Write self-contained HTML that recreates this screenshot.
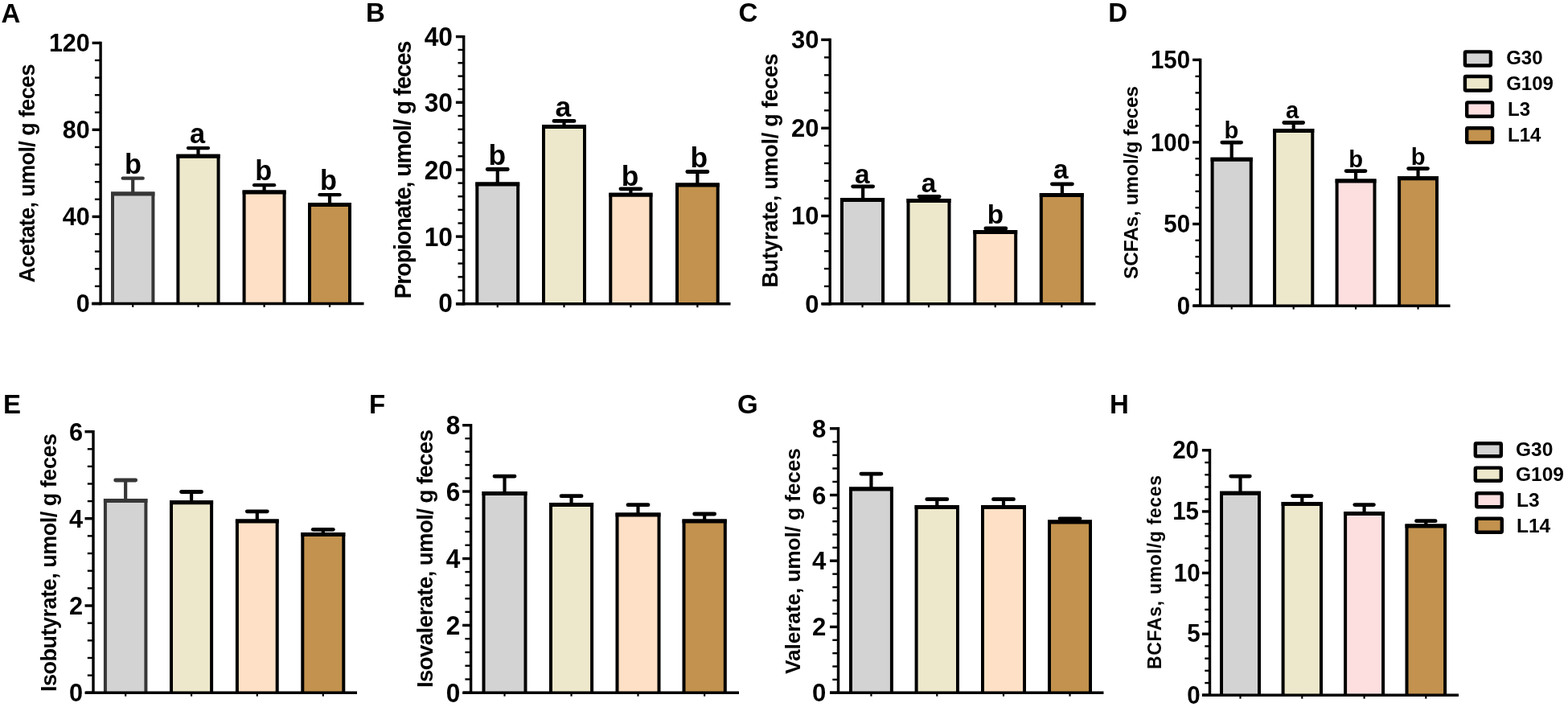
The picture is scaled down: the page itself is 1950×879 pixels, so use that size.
<!DOCTYPE html>
<html lang="en">
<head>
<meta charset="utf-8">
<title>Short-chain fatty acids</title>
<style>
html,body{margin:0;padding:0;background:#fff;}
body{width:1950px;height:879px;overflow:hidden;}
svg{display:block;}
text{fill:#000;}
</style>
</head>
<body>
<svg width="1950" height="879" viewBox="0 0 1950 879">
<rect width="1950" height="879" fill="#ffffff"/>
<g id="panel-A">
<text x="1.5" y="27.6" font-size="33" font-family="'Liberation Sans', Arial, sans-serif" font-weight="bold">A</text>
<text transform="translate(43,351.6) rotate(-90)" font-size="27" textLength="272.1" lengthAdjust="spacing" font-family="'Liberation Sans', Arial, sans-serif" font-weight="bold">Acetate, umol/ g feces</text>
<path d="M165.2,240.6 V221.7" stroke="#363636" stroke-width="4.2" fill="none"/>
<path d="M152.7,221.7 H177.7" stroke="#363636" stroke-width="4.3" fill="none" stroke-linecap="round"/>
<path d="M140,377.5 V240.6 H190.4 V377.5" fill="#d3d3d3" stroke="#363636" stroke-width="4.0" stroke-linejoin="miter"/>
<line x1="138" y1="241.1" x2="192.4" y2="241.1" stroke="#363636" stroke-width="5.0"/>
<line x1="165.2" y1="377.5" x2="165.2" y2="381.9" stroke="#000" stroke-width="2.2"/>
<text x="165.6" y="215.7" text-anchor="middle" font-size="34.3" font-family="'Liberation Sans', Arial, sans-serif" font-weight="bold">b</text>
<path d="M246.5,193.7 V184.1" stroke="#000" stroke-width="4.2" fill="none"/>
<path d="M234,184.1 H259" stroke="#000" stroke-width="4.3" fill="none" stroke-linecap="round"/>
<path d="M221.4,377.5 V193.7 H271.6 V377.5" fill="#ede8cb" stroke="#000" stroke-width="4.0" stroke-linejoin="miter"/>
<line x1="219.4" y1="194.2" x2="273.6" y2="194.2" stroke="#000" stroke-width="5.0"/>
<line x1="246.5" y1="377.5" x2="246.5" y2="381.9" stroke="#000" stroke-width="2.2"/>
<text x="245.5" y="177.7" text-anchor="middle" font-size="34.3" font-family="'Liberation Sans', Arial, sans-serif" font-weight="bold">a</text>
<path d="M328.6,238.4 V230.2" stroke="#000" stroke-width="4.2" fill="none"/>
<path d="M316.1,230.2 H341.1" stroke="#000" stroke-width="4.3" fill="none" stroke-linecap="round"/>
<path d="M303.6,377.5 V238.4 H353.6 V377.5" fill="#fde0c5" stroke="#000" stroke-width="4.0" stroke-linejoin="miter"/>
<line x1="301.6" y1="238.9" x2="355.6" y2="238.9" stroke="#000" stroke-width="5.0"/>
<line x1="328.6" y1="377.5" x2="328.6" y2="381.9" stroke="#000" stroke-width="2.2"/>
<text x="327.8" y="224" text-anchor="middle" font-size="34.3" font-family="'Liberation Sans', Arial, sans-serif" font-weight="bold">b</text>
<path d="M410,254 V242.2" stroke="#000" stroke-width="4.2" fill="none"/>
<path d="M397.5,242.2 H422.5" stroke="#000" stroke-width="4.3" fill="none" stroke-linecap="round"/>
<path d="M385,377.5 V254 H435 V377.5" fill="#c2924e" stroke="#000" stroke-width="4.0" stroke-linejoin="miter"/>
<line x1="383" y1="254.5" x2="437" y2="254.5" stroke="#000" stroke-width="5.0"/>
<line x1="410" y1="377.5" x2="410" y2="381.9" stroke="#000" stroke-width="2.2"/>
<text x="408.6" y="236" text-anchor="middle" font-size="34.3" font-family="'Liberation Sans', Arial, sans-serif" font-weight="bold">b</text>
<line x1="125.1" y1="51.7" x2="125.1" y2="379.2" stroke="#000" stroke-width="3.4"/>
<line x1="114" y1="377.5" x2="452.5" y2="377.5" stroke="#000" stroke-width="3.4"/>
<line x1="114.6" y1="377.5" x2="125.1" y2="377.5" stroke="#000" stroke-width="3.4"/>
<text transform="translate(111.8,388.22) scale(1.0,1)" text-anchor="end" font-size="30.5" font-family="'Liberation Sans', Arial, sans-serif" font-weight="bold">0</text>
<line x1="117.9" y1="355.88" x2="125.1" y2="355.88" stroke="#000" stroke-width="2.4"/>
<line x1="117.9" y1="334.26" x2="125.1" y2="334.26" stroke="#000" stroke-width="2.4"/>
<line x1="117.9" y1="312.64" x2="125.1" y2="312.64" stroke="#000" stroke-width="2.4"/>
<line x1="117.9" y1="291.02" x2="125.1" y2="291.02" stroke="#000" stroke-width="2.4"/>
<line x1="114.6" y1="269.4" x2="125.1" y2="269.4" stroke="#000" stroke-width="3.4"/>
<text transform="translate(111.8,280.12) scale(1.0,1)" text-anchor="end" font-size="30.5" font-family="'Liberation Sans', Arial, sans-serif" font-weight="bold">40</text>
<line x1="117.9" y1="247.78" x2="125.1" y2="247.78" stroke="#000" stroke-width="2.4"/>
<line x1="117.9" y1="226.16" x2="125.1" y2="226.16" stroke="#000" stroke-width="2.4"/>
<line x1="117.9" y1="204.54" x2="125.1" y2="204.54" stroke="#000" stroke-width="2.4"/>
<line x1="117.9" y1="182.92" x2="125.1" y2="182.92" stroke="#000" stroke-width="2.4"/>
<line x1="114.6" y1="161.3" x2="125.1" y2="161.3" stroke="#000" stroke-width="3.4"/>
<text transform="translate(111.8,172.02) scale(1.0,1)" text-anchor="end" font-size="30.5" font-family="'Liberation Sans', Arial, sans-serif" font-weight="bold">80</text>
<line x1="117.9" y1="139.72" x2="125.1" y2="139.72" stroke="#000" stroke-width="2.4"/>
<line x1="117.9" y1="118.14" x2="125.1" y2="118.14" stroke="#000" stroke-width="2.4"/>
<line x1="117.9" y1="96.56" x2="125.1" y2="96.56" stroke="#000" stroke-width="2.4"/>
<line x1="117.9" y1="74.98" x2="125.1" y2="74.98" stroke="#000" stroke-width="2.4"/>
<line x1="114.6" y1="53.4" x2="125.1" y2="53.4" stroke="#000" stroke-width="3.4"/>
<text transform="translate(111.8,64.12) scale(1.0,1)" text-anchor="end" font-size="30.5" font-family="'Liberation Sans', Arial, sans-serif" font-weight="bold">120</text>
</g>
<g id="panel-B">
<text x="455" y="27" font-size="33" font-family="'Liberation Sans', Arial, sans-serif" font-weight="bold">B</text>
<text transform="translate(511.2,371.6) rotate(-90)" font-size="28.6" textLength="321" lengthAdjust="spacing" font-family="'Liberation Sans', Arial, sans-serif" font-weight="bold">Propionate, umol/ g feces</text>
<path d="M618.75,228.6 V210.5" stroke="#000" stroke-width="4.2" fill="none"/>
<path d="M606.25,210.5 H631.25" stroke="#000" stroke-width="4.8" fill="none" stroke-linecap="round"/>
<path d="M593.3,377.8 V228.6 H644.2 V377.8" fill="#d3d3d3" stroke="#000" stroke-width="4.0" stroke-linejoin="miter"/>
<line x1="591.3" y1="229.1" x2="646.2" y2="229.1" stroke="#000" stroke-width="5.0"/>
<line x1="618.75" y1="377.8" x2="618.75" y2="382.2" stroke="#000" stroke-width="2.2"/>
<text x="618.4" y="204.6" text-anchor="middle" font-size="35.4" font-family="'Liberation Sans', Arial, sans-serif" font-weight="bold">b</text>
<path d="M701.5,157.1 V150.4" stroke="#000" stroke-width="4.2" fill="none"/>
<path d="M689,150.4 H714" stroke="#000" stroke-width="4.8" fill="none" stroke-linecap="round"/>
<path d="M676,377.8 V157.1 H727 V377.8" fill="#ede8cb" stroke="#000" stroke-width="4.0" stroke-linejoin="miter"/>
<line x1="674" y1="157.6" x2="729" y2="157.6" stroke="#000" stroke-width="5.0"/>
<line x1="701.5" y1="377.8" x2="701.5" y2="382.2" stroke="#000" stroke-width="2.2"/>
<text x="700.3" y="144.9" text-anchor="middle" font-size="35.4" font-family="'Liberation Sans', Arial, sans-serif" font-weight="bold">a</text>
<path d="M784.4,241.7 V234.8" stroke="#000" stroke-width="4.2" fill="none"/>
<path d="M771.9,234.8 H796.9" stroke="#000" stroke-width="4.8" fill="none" stroke-linecap="round"/>
<path d="M759.3,377.8 V241.7 H809.5 V377.8" fill="#fde0c5" stroke="#000" stroke-width="4.0" stroke-linejoin="miter"/>
<line x1="757.3" y1="242.2" x2="811.5" y2="242.2" stroke="#000" stroke-width="5.0"/>
<line x1="784.4" y1="377.8" x2="784.4" y2="382.2" stroke="#000" stroke-width="2.2"/>
<text x="783.6" y="230.7" text-anchor="middle" font-size="35.4" font-family="'Liberation Sans', Arial, sans-serif" font-weight="bold">b</text>
<path d="M867.35,229.4 V213.5" stroke="#000" stroke-width="4.2" fill="none"/>
<path d="M854.85,213.5 H879.85" stroke="#000" stroke-width="4.8" fill="none" stroke-linecap="round"/>
<path d="M842,377.8 V229.4 H892.7 V377.8" fill="#c2924e" stroke="#000" stroke-width="4.0" stroke-linejoin="miter"/>
<line x1="840" y1="229.9" x2="894.7" y2="229.9" stroke="#000" stroke-width="5.0"/>
<line x1="867.35" y1="377.8" x2="867.35" y2="382.2" stroke="#000" stroke-width="2.2"/>
<text x="869.3" y="207.5" text-anchor="middle" font-size="35.4" font-family="'Liberation Sans', Arial, sans-serif" font-weight="bold">b</text>
<line x1="576.7" y1="43.9" x2="576.7" y2="379.5" stroke="#000" stroke-width="3.4"/>
<line x1="567.5" y1="377.8" x2="908.5" y2="377.8" stroke="#000" stroke-width="3.4"/>
<line x1="566.9" y1="377.8" x2="576.7" y2="377.8" stroke="#000" stroke-width="3.4"/>
<text transform="translate(563,388.41) scale(0.97,1)" text-anchor="end" font-size="32.7" font-family="'Liberation Sans', Arial, sans-serif" font-weight="bold">0</text>
<line x1="569.5" y1="361.06" x2="576.7" y2="361.06" stroke="#000" stroke-width="2.4"/>
<line x1="569.5" y1="344.32" x2="576.7" y2="344.32" stroke="#000" stroke-width="2.4"/>
<line x1="569.5" y1="327.58" x2="576.7" y2="327.58" stroke="#000" stroke-width="2.4"/>
<line x1="569.5" y1="310.84" x2="576.7" y2="310.84" stroke="#000" stroke-width="2.4"/>
<line x1="566.9" y1="294.1" x2="576.7" y2="294.1" stroke="#000" stroke-width="3.4"/>
<text transform="translate(563,305.51) scale(0.97,1)" text-anchor="end" font-size="32.7" font-family="'Liberation Sans', Arial, sans-serif" font-weight="bold">10</text>
<line x1="569.5" y1="277.48" x2="576.7" y2="277.48" stroke="#000" stroke-width="2.4"/>
<line x1="569.5" y1="260.86" x2="576.7" y2="260.86" stroke="#000" stroke-width="2.4"/>
<line x1="569.5" y1="244.24" x2="576.7" y2="244.24" stroke="#000" stroke-width="2.4"/>
<line x1="569.5" y1="227.62" x2="576.7" y2="227.62" stroke="#000" stroke-width="2.4"/>
<line x1="566.9" y1="211" x2="576.7" y2="211" stroke="#000" stroke-width="3.4"/>
<text transform="translate(563,222.71) scale(0.97,1)" text-anchor="end" font-size="32.7" font-family="'Liberation Sans', Arial, sans-serif" font-weight="bold">20</text>
<line x1="569.5" y1="194.26" x2="576.7" y2="194.26" stroke="#000" stroke-width="2.4"/>
<line x1="569.5" y1="177.52" x2="576.7" y2="177.52" stroke="#000" stroke-width="2.4"/>
<line x1="569.5" y1="160.78" x2="576.7" y2="160.78" stroke="#000" stroke-width="2.4"/>
<line x1="569.5" y1="144.04" x2="576.7" y2="144.04" stroke="#000" stroke-width="2.4"/>
<line x1="566.9" y1="127.3" x2="576.7" y2="127.3" stroke="#000" stroke-width="3.4"/>
<text transform="translate(563,139.01) scale(0.97,1)" text-anchor="end" font-size="32.7" font-family="'Liberation Sans', Arial, sans-serif" font-weight="bold">30</text>
<line x1="569.5" y1="110.96" x2="576.7" y2="110.96" stroke="#000" stroke-width="2.4"/>
<line x1="569.5" y1="94.62" x2="576.7" y2="94.62" stroke="#000" stroke-width="2.4"/>
<line x1="569.5" y1="78.28" x2="576.7" y2="78.28" stroke="#000" stroke-width="2.4"/>
<line x1="569.5" y1="61.94" x2="576.7" y2="61.94" stroke="#000" stroke-width="2.4"/>
<line x1="566.9" y1="45.6" x2="576.7" y2="45.6" stroke="#000" stroke-width="3.4"/>
<text transform="translate(563,57.31) scale(0.97,1)" text-anchor="end" font-size="32.7" font-family="'Liberation Sans', Arial, sans-serif" font-weight="bold">40</text>
</g>
<g id="panel-C">
<text x="918.6" y="27" font-size="33" font-family="'Liberation Sans', Arial, sans-serif" font-weight="bold">C</text>
<text transform="translate(966.8,357.6) rotate(-90)" font-size="27" textLength="291.2" lengthAdjust="spacing" font-family="'Liberation Sans', Arial, sans-serif" font-weight="bold">Butyrate, umol/ g feces</text>
<path d="M1073.15,248 V231.8" stroke="#000" stroke-width="4.2" fill="none"/>
<path d="M1060.65,231.8 H1085.65" stroke="#000" stroke-width="4.8" fill="none" stroke-linecap="round"/>
<path d="M1047,377.8 V248 H1098.1 V377.8" fill="#d3d3d3" stroke="#000" stroke-width="4.0" stroke-linejoin="miter"/>
<line x1="1045" y1="248.5" x2="1100.1" y2="248.5" stroke="#000" stroke-width="5.0"/>
<line x1="1072.55" y1="377.8" x2="1072.55" y2="382.2" stroke="#000" stroke-width="2.2"/>
<text x="1072.3" y="227.5" text-anchor="middle" font-size="33.3" font-family="'Liberation Sans', Arial, sans-serif" font-weight="bold">a</text>
<path d="M1155.6,249 V244.5" stroke="#000" stroke-width="4.2" fill="none"/>
<path d="M1143.1,244.5 H1168.1" stroke="#000" stroke-width="4.8" fill="none" stroke-linecap="round"/>
<path d="M1129.5,377.8 V249 H1180.5 V377.8" fill="#ede8cb" stroke="#000" stroke-width="4.0" stroke-linejoin="miter"/>
<line x1="1127.5" y1="249.5" x2="1182.5" y2="249.5" stroke="#000" stroke-width="5.0"/>
<line x1="1155" y1="377.8" x2="1155" y2="382.2" stroke="#000" stroke-width="2.2"/>
<text x="1155.1" y="238.6" text-anchor="middle" font-size="33.3" font-family="'Liberation Sans', Arial, sans-serif" font-weight="bold">a</text>
<path d="M1238.35,288 V284" stroke="#000" stroke-width="4.2" fill="none"/>
<path d="M1225.85,284 H1250.85" stroke="#000" stroke-width="4.8" fill="none" stroke-linecap="round"/>
<path d="M1212.3,377.8 V288 H1263.2 V377.8" fill="#fde0c5" stroke="#000" stroke-width="4.0" stroke-linejoin="miter"/>
<line x1="1210.3" y1="288.5" x2="1265.2" y2="288.5" stroke="#000" stroke-width="5.0"/>
<line x1="1237.75" y1="377.8" x2="1237.75" y2="382.2" stroke="#000" stroke-width="2.2"/>
<text x="1237.9" y="277.7" text-anchor="middle" font-size="33.3" font-family="'Liberation Sans', Arial, sans-serif" font-weight="bold">b</text>
<path d="M1320.9,242 V228.8" stroke="#000" stroke-width="4.2" fill="none"/>
<path d="M1308.4,228.8 H1333.4" stroke="#000" stroke-width="4.8" fill="none" stroke-linecap="round"/>
<path d="M1294.8,377.8 V242 H1345.8 V377.8" fill="#c2924e" stroke="#000" stroke-width="4.0" stroke-linejoin="miter"/>
<line x1="1292.8" y1="242.5" x2="1347.8" y2="242.5" stroke="#000" stroke-width="5.0"/>
<line x1="1320.3" y1="377.8" x2="1320.3" y2="382.2" stroke="#000" stroke-width="2.2"/>
<text x="1319.3" y="222.2" text-anchor="middle" font-size="33.3" font-family="'Liberation Sans', Arial, sans-serif" font-weight="bold">a</text>
<line x1="1032.2" y1="47.7" x2="1032.2" y2="379.5" stroke="#000" stroke-width="3.4"/>
<line x1="1022.5" y1="377.8" x2="1362.5" y2="377.8" stroke="#000" stroke-width="3.4"/>
<line x1="1021.2" y1="377.8" x2="1032.2" y2="377.8" stroke="#000" stroke-width="3.4"/>
<text transform="translate(1018.4,388.5) scale(1.0,1)" text-anchor="end" font-size="31" font-family="'Liberation Sans', Arial, sans-serif" font-weight="bold">0</text>
<line x1="1025" y1="355.94" x2="1032.2" y2="355.94" stroke="#000" stroke-width="2.4"/>
<line x1="1025" y1="334.08" x2="1032.2" y2="334.08" stroke="#000" stroke-width="2.4"/>
<line x1="1025" y1="312.22" x2="1032.2" y2="312.22" stroke="#000" stroke-width="2.4"/>
<line x1="1025" y1="290.36" x2="1032.2" y2="290.36" stroke="#000" stroke-width="2.4"/>
<line x1="1021.2" y1="268.5" x2="1032.2" y2="268.5" stroke="#000" stroke-width="3.4"/>
<text transform="translate(1018.4,279.2) scale(1.0,1)" text-anchor="end" font-size="31" font-family="'Liberation Sans', Arial, sans-serif" font-weight="bold">10</text>
<line x1="1025" y1="246.66" x2="1032.2" y2="246.66" stroke="#000" stroke-width="2.4"/>
<line x1="1025" y1="224.82" x2="1032.2" y2="224.82" stroke="#000" stroke-width="2.4"/>
<line x1="1025" y1="202.98" x2="1032.2" y2="202.98" stroke="#000" stroke-width="2.4"/>
<line x1="1025" y1="181.14" x2="1032.2" y2="181.14" stroke="#000" stroke-width="2.4"/>
<line x1="1021.2" y1="159.3" x2="1032.2" y2="159.3" stroke="#000" stroke-width="3.4"/>
<text transform="translate(1018.4,170) scale(1.0,1)" text-anchor="end" font-size="31" font-family="'Liberation Sans', Arial, sans-serif" font-weight="bold">20</text>
<line x1="1025" y1="137.32" x2="1032.2" y2="137.32" stroke="#000" stroke-width="2.4"/>
<line x1="1025" y1="115.34" x2="1032.2" y2="115.34" stroke="#000" stroke-width="2.4"/>
<line x1="1025" y1="93.36" x2="1032.2" y2="93.36" stroke="#000" stroke-width="2.4"/>
<line x1="1025" y1="71.38" x2="1032.2" y2="71.38" stroke="#000" stroke-width="2.4"/>
<line x1="1021.2" y1="49.4" x2="1032.2" y2="49.4" stroke="#000" stroke-width="3.4"/>
<text transform="translate(1018.4,60.1) scale(1.0,1)" text-anchor="end" font-size="31" font-family="'Liberation Sans', Arial, sans-serif" font-weight="bold">30</text>
</g>
<g id="panel-D">
<text x="1378.3" y="27.2" font-size="33" font-family="'Liberation Sans', Arial, sans-serif" font-weight="bold">D</text>
<text transform="translate(1414.8,347) rotate(-90)" font-size="24.3" textLength="240" lengthAdjust="spacing" font-family="'Liberation Sans', Arial, sans-serif" font-weight="bold">SCFAs, umol/g feces</text>
<path d="M1531.7,197.8 V177.1" stroke="#000" stroke-width="4.2" fill="none"/>
<path d="M1519.8,177.1 H1543.6" stroke="#000" stroke-width="4.8" fill="none" stroke-linecap="round"/>
<path d="M1507.6,380.2 V197.8 H1555.8 V380.2" fill="#d3d3d3" stroke="#000" stroke-width="4.0" stroke-linejoin="miter"/>
<line x1="1505.6" y1="198.3" x2="1557.8" y2="198.3" stroke="#000" stroke-width="5.0"/>
<line x1="1531.7" y1="380.2" x2="1531.7" y2="384.6" stroke="#000" stroke-width="2.2"/>
<text x="1531.3" y="172" text-anchor="middle" font-size="29.2" font-family="'Liberation Sans', Arial, sans-serif" font-weight="bold">b</text>
<path d="M1608.7,162 V152.5" stroke="#000" stroke-width="4.2" fill="none"/>
<path d="M1596.8,152.5 H1620.6" stroke="#000" stroke-width="4.8" fill="none" stroke-linecap="round"/>
<path d="M1585.1,380.2 V162 H1632.3 V380.2" fill="#ede8cb" stroke="#000" stroke-width="4.0" stroke-linejoin="miter"/>
<line x1="1583.1" y1="162.5" x2="1634.3" y2="162.5" stroke="#000" stroke-width="5.0"/>
<line x1="1608.7" y1="380.2" x2="1608.7" y2="384.6" stroke="#000" stroke-width="2.2"/>
<text x="1607" y="147.2" text-anchor="middle" font-size="29.2" font-family="'Liberation Sans', Arial, sans-serif" font-weight="bold">a</text>
<path d="M1686.05,224.5 V212.6" stroke="#000" stroke-width="4.2" fill="none"/>
<path d="M1674.15,212.6 H1697.95" stroke="#000" stroke-width="4.8" fill="none" stroke-linecap="round"/>
<path d="M1662.6,380.2 V224.5 H1709.5 V380.2" fill="#fddfe0" stroke="#000" stroke-width="4.0" stroke-linejoin="miter"/>
<line x1="1660.6" y1="225" x2="1711.5" y2="225" stroke="#000" stroke-width="5.0"/>
<line x1="1686.05" y1="380.2" x2="1686.05" y2="384.6" stroke="#000" stroke-width="2.2"/>
<text x="1686.2" y="208.3" text-anchor="middle" font-size="29.2" font-family="'Liberation Sans', Arial, sans-serif" font-weight="bold">b</text>
<path d="M1763.55,221.3 V209.6" stroke="#000" stroke-width="4.2" fill="none"/>
<path d="M1751.65,209.6 H1775.45" stroke="#000" stroke-width="4.8" fill="none" stroke-linecap="round"/>
<path d="M1740.1,380.2 V221.3 H1787 V380.2" fill="#c2924e" stroke="#000" stroke-width="4.0" stroke-linejoin="miter"/>
<line x1="1738.1" y1="221.8" x2="1789" y2="221.8" stroke="#000" stroke-width="5.0"/>
<line x1="1763.55" y1="380.2" x2="1763.55" y2="384.6" stroke="#000" stroke-width="2.2"/>
<text x="1763.6" y="204.9" text-anchor="middle" font-size="29.2" font-family="'Liberation Sans', Arial, sans-serif" font-weight="bold">b</text>
<line x1="1492.7" y1="72.7" x2="1492.7" y2="381.9" stroke="#000" stroke-width="3.4"/>
<line x1="1484" y1="380.2" x2="1803.5" y2="380.2" stroke="#000" stroke-width="3.4"/>
<line x1="1483.1" y1="380.2" x2="1492.7" y2="380.2" stroke="#000" stroke-width="3.4"/>
<text transform="translate(1480,391.01) scale(0.94,1)" text-anchor="end" font-size="31.3" font-family="'Liberation Sans', Arial, sans-serif" font-weight="bold">0</text>
<line x1="1486.5" y1="359.86" x2="1492.7" y2="359.86" stroke="#000" stroke-width="2.4"/>
<line x1="1486.5" y1="339.52" x2="1492.7" y2="339.52" stroke="#000" stroke-width="2.4"/>
<line x1="1486.5" y1="319.18" x2="1492.7" y2="319.18" stroke="#000" stroke-width="2.4"/>
<line x1="1486.5" y1="298.84" x2="1492.7" y2="298.84" stroke="#000" stroke-width="2.4"/>
<line x1="1483.1" y1="278.5" x2="1492.7" y2="278.5" stroke="#000" stroke-width="3.4"/>
<text transform="translate(1480,289.31) scale(0.94,1)" text-anchor="end" font-size="31.3" font-family="'Liberation Sans', Arial, sans-serif" font-weight="bold">50</text>
<line x1="1486.5" y1="258.18" x2="1492.7" y2="258.18" stroke="#000" stroke-width="2.4"/>
<line x1="1486.5" y1="237.86" x2="1492.7" y2="237.86" stroke="#000" stroke-width="2.4"/>
<line x1="1486.5" y1="217.54" x2="1492.7" y2="217.54" stroke="#000" stroke-width="2.4"/>
<line x1="1486.5" y1="197.22" x2="1492.7" y2="197.22" stroke="#000" stroke-width="2.4"/>
<line x1="1483.1" y1="176.9" x2="1492.7" y2="176.9" stroke="#000" stroke-width="3.4"/>
<text transform="translate(1480,187.71) scale(0.94,1)" text-anchor="end" font-size="31.3" font-family="'Liberation Sans', Arial, sans-serif" font-weight="bold">100</text>
<line x1="1486.5" y1="156.4" x2="1492.7" y2="156.4" stroke="#000" stroke-width="2.4"/>
<line x1="1486.5" y1="135.9" x2="1492.7" y2="135.9" stroke="#000" stroke-width="2.4"/>
<line x1="1486.5" y1="115.4" x2="1492.7" y2="115.4" stroke="#000" stroke-width="2.4"/>
<line x1="1486.5" y1="94.9" x2="1492.7" y2="94.9" stroke="#000" stroke-width="2.4"/>
<line x1="1483.1" y1="74.4" x2="1492.7" y2="74.4" stroke="#000" stroke-width="3.4"/>
<text transform="translate(1480,85.21) scale(0.94,1)" text-anchor="end" font-size="31.3" font-family="'Liberation Sans', Arial, sans-serif" font-weight="bold">150</text>
<rect x="1821.9" y="64.4" width="32" height="17.1" rx="1.2" fill="#d3d3d3" stroke="#000" stroke-width="4.4"/>
<text x="1873.2" y="80.4" font-size="24" font-family="'Liberation Sans', Arial, sans-serif" font-weight="bold">G30</text>
<rect x="1821.9" y="95" width="32" height="17.5" rx="1.2" fill="#ede8cb" stroke="#000" stroke-width="4.4"/>
<text x="1873.2" y="112" font-size="24" font-family="'Liberation Sans', Arial, sans-serif" font-weight="bold">G109</text>
<rect x="1824.2" y="127.4" width="31.9" height="17.3" rx="1.2" fill="#fddfe0" stroke="#000" stroke-width="4.4"/>
<text x="1875" y="143.6" font-size="24" font-family="'Liberation Sans', Arial, sans-serif" font-weight="bold">L3</text>
<rect x="1824.2" y="159.3" width="31.9" height="17.8" rx="1.2" fill="#c2924e" stroke="#000" stroke-width="4.4"/>
<text x="1875" y="175.9" font-size="24" font-family="'Liberation Sans', Arial, sans-serif" font-weight="bold">L14</text>
</g>
<g id="panel-E">
<text x="4" y="514.2" font-size="33" font-family="'Liberation Sans', Arial, sans-serif" font-weight="bold">E</text>
<text transform="translate(69.6,860) rotate(-90)" font-size="27" textLength="321" lengthAdjust="spacing" font-family="'Liberation Sans', Arial, sans-serif" font-weight="bold">Isobutyrate, umol/ g feces</text>
<path d="M156.15,622 V597" stroke="#363636" stroke-width="4.2" fill="none"/>
<path d="M143.65,597 H168.65" stroke="#363636" stroke-width="4.8" fill="none" stroke-linecap="round"/>
<path d="M130.9,861.3 V622 H181.4 V861.3" fill="#d3d3d3" stroke="#363636" stroke-width="4.0" stroke-linejoin="miter"/>
<line x1="128.9" y1="622.5" x2="183.4" y2="622.5" stroke="#363636" stroke-width="5.0"/>
<line x1="156.15" y1="861.3" x2="156.15" y2="865.7" stroke="#000" stroke-width="2.2"/>
<path d="M238.05,624.3 V611.5" stroke="#000" stroke-width="4.2" fill="none"/>
<path d="M225.55,611.5 H250.55" stroke="#000" stroke-width="4.8" fill="none" stroke-linecap="round"/>
<path d="M213,861.3 V624.3 H263.1 V861.3" fill="#ede8cb" stroke="#000" stroke-width="4.0" stroke-linejoin="miter"/>
<line x1="211" y1="624.8" x2="265.1" y2="624.8" stroke="#000" stroke-width="5.0"/>
<line x1="238.05" y1="861.3" x2="238.05" y2="865.7" stroke="#000" stroke-width="2.2"/>
<path d="M319.8,647.4 V635.8" stroke="#000" stroke-width="4.2" fill="none"/>
<path d="M307.3,635.8 H332.3" stroke="#000" stroke-width="4.8" fill="none" stroke-linecap="round"/>
<path d="M294.9,861.3 V647.4 H344.7 V861.3" fill="#fde0c5" stroke="#000" stroke-width="4.0" stroke-linejoin="miter"/>
<line x1="292.9" y1="647.9" x2="346.7" y2="647.9" stroke="#000" stroke-width="5.0"/>
<line x1="319.8" y1="861.3" x2="319.8" y2="865.7" stroke="#000" stroke-width="2.2"/>
<path d="M401.8,664 V658.3" stroke="#000" stroke-width="4.2" fill="none"/>
<path d="M389.3,658.3 H414.3" stroke="#000" stroke-width="4.8" fill="none" stroke-linecap="round"/>
<path d="M376.3,861.3 V664 H427.3 V861.3" fill="#c2924e" stroke="#000" stroke-width="4.0" stroke-linejoin="miter"/>
<line x1="374.3" y1="664.5" x2="429.3" y2="664.5" stroke="#000" stroke-width="5.0"/>
<line x1="401.8" y1="861.3" x2="401.8" y2="865.7" stroke="#000" stroke-width="2.2"/>
<line x1="116" y1="535" x2="116" y2="863" stroke="#000" stroke-width="3.4"/>
<line x1="106.5" y1="861.3" x2="444" y2="861.3" stroke="#000" stroke-width="3.4"/>
<line x1="105.5" y1="861.3" x2="116" y2="861.3" stroke="#000" stroke-width="3.4"/>
<text transform="translate(103,872.45) scale(0.97,1)" text-anchor="end" font-size="31.7" font-family="'Liberation Sans', Arial, sans-serif" font-weight="bold">0</text>
<line x1="108.8" y1="839.64" x2="116" y2="839.64" stroke="#000" stroke-width="2.4"/>
<line x1="108.8" y1="817.98" x2="116" y2="817.98" stroke="#000" stroke-width="2.4"/>
<line x1="108.8" y1="796.32" x2="116" y2="796.32" stroke="#000" stroke-width="2.4"/>
<line x1="108.8" y1="774.66" x2="116" y2="774.66" stroke="#000" stroke-width="2.4"/>
<line x1="105.5" y1="753" x2="116" y2="753" stroke="#000" stroke-width="3.4"/>
<text transform="translate(103,764.15) scale(0.97,1)" text-anchor="end" font-size="31.7" font-family="'Liberation Sans', Arial, sans-serif" font-weight="bold">2</text>
<line x1="108.8" y1="731.34" x2="116" y2="731.34" stroke="#000" stroke-width="2.4"/>
<line x1="108.8" y1="709.68" x2="116" y2="709.68" stroke="#000" stroke-width="2.4"/>
<line x1="108.8" y1="688.02" x2="116" y2="688.02" stroke="#000" stroke-width="2.4"/>
<line x1="108.8" y1="666.36" x2="116" y2="666.36" stroke="#000" stroke-width="2.4"/>
<line x1="105.5" y1="644.7" x2="116" y2="644.7" stroke="#000" stroke-width="3.4"/>
<text transform="translate(103,655.85) scale(0.97,1)" text-anchor="end" font-size="31.7" font-family="'Liberation Sans', Arial, sans-serif" font-weight="bold">4</text>
<line x1="108.8" y1="623.1" x2="116" y2="623.1" stroke="#000" stroke-width="2.4"/>
<line x1="108.8" y1="601.5" x2="116" y2="601.5" stroke="#000" stroke-width="2.4"/>
<line x1="108.8" y1="579.9" x2="116" y2="579.9" stroke="#000" stroke-width="2.4"/>
<line x1="108.8" y1="558.3" x2="116" y2="558.3" stroke="#000" stroke-width="2.4"/>
<line x1="105.5" y1="536.7" x2="116" y2="536.7" stroke="#000" stroke-width="3.4"/>
<text transform="translate(103,547.85) scale(0.97,1)" text-anchor="end" font-size="31.7" font-family="'Liberation Sans', Arial, sans-serif" font-weight="bold">6</text>
</g>
<g id="panel-F">
<text x="459" y="514.2" font-size="33" font-family="'Liberation Sans', Arial, sans-serif" font-weight="bold">F</text>
<text transform="translate(538.1,855) rotate(-90)" font-size="27.6" textLength="321" lengthAdjust="spacing" font-family="'Liberation Sans', Arial, sans-serif" font-weight="bold">Isovalerate, umol/ g feces</text>
<path d="M627.5,613 V592.1" stroke="#000" stroke-width="4.2" fill="none"/>
<path d="M615,592.1 H640" stroke="#000" stroke-width="4.8" fill="none" stroke-linecap="round"/>
<path d="M601.5,861.3 V613 H653.5 V861.3" fill="#d3d3d3" stroke="#000" stroke-width="4.0" stroke-linejoin="miter"/>
<line x1="599.5" y1="613.5" x2="655.5" y2="613.5" stroke="#000" stroke-width="5.0"/>
<line x1="627.5" y1="861.3" x2="627.5" y2="865.7" stroke="#000" stroke-width="2.2"/>
<path d="M710.55,627 V616.7" stroke="#000" stroke-width="4.2" fill="none"/>
<path d="M698.05,616.7 H723.05" stroke="#000" stroke-width="4.8" fill="none" stroke-linecap="round"/>
<path d="M685,861.3 V627 H736.1 V861.3" fill="#ede8cb" stroke="#000" stroke-width="4.0" stroke-linejoin="miter"/>
<line x1="683" y1="627.5" x2="738.1" y2="627.5" stroke="#000" stroke-width="5.0"/>
<line x1="710.55" y1="861.3" x2="710.55" y2="865.7" stroke="#000" stroke-width="2.2"/>
<path d="M793.5,639.5 V627.7" stroke="#000" stroke-width="4.2" fill="none"/>
<path d="M781,627.7 H806" stroke="#000" stroke-width="4.8" fill="none" stroke-linecap="round"/>
<path d="M767.5,861.3 V639.5 H819.5 V861.3" fill="#fde0c5" stroke="#000" stroke-width="4.0" stroke-linejoin="miter"/>
<line x1="765.5" y1="640" x2="821.5" y2="640" stroke="#000" stroke-width="5.0"/>
<line x1="793.5" y1="861.3" x2="793.5" y2="865.7" stroke="#000" stroke-width="2.2"/>
<path d="M876.15,647.4 V639" stroke="#000" stroke-width="4.2" fill="none"/>
<path d="M863.65,639 H888.65" stroke="#000" stroke-width="4.8" fill="none" stroke-linecap="round"/>
<path d="M850.5,861.3 V647.4 H901.8 V861.3" fill="#c2924e" stroke="#000" stroke-width="4.0" stroke-linejoin="miter"/>
<line x1="848.5" y1="647.9" x2="903.8" y2="647.9" stroke="#000" stroke-width="5.0"/>
<line x1="876.15" y1="861.3" x2="876.15" y2="865.7" stroke="#000" stroke-width="2.2"/>
<line x1="585.6" y1="527" x2="585.6" y2="863" stroke="#000" stroke-width="3.4"/>
<line x1="576" y1="861.3" x2="919" y2="861.3" stroke="#000" stroke-width="3.4"/>
<line x1="575.1" y1="861.3" x2="585.6" y2="861.3" stroke="#000" stroke-width="3.4"/>
<text transform="translate(572.2,873.08) scale(0.96,1)" text-anchor="end" font-size="32.9" font-family="'Liberation Sans', Arial, sans-serif" font-weight="bold">0</text>
<line x1="578.4" y1="844.52" x2="585.6" y2="844.52" stroke="#000" stroke-width="2.4"/>
<line x1="578.4" y1="827.74" x2="585.6" y2="827.74" stroke="#000" stroke-width="2.4"/>
<line x1="578.4" y1="810.96" x2="585.6" y2="810.96" stroke="#000" stroke-width="2.4"/>
<line x1="578.4" y1="794.18" x2="585.6" y2="794.18" stroke="#000" stroke-width="2.4"/>
<line x1="575.1" y1="777.4" x2="585.6" y2="777.4" stroke="#000" stroke-width="3.4"/>
<text transform="translate(572.2,789.18) scale(0.96,1)" text-anchor="end" font-size="32.9" font-family="'Liberation Sans', Arial, sans-serif" font-weight="bold">2</text>
<line x1="578.4" y1="760.82" x2="585.6" y2="760.82" stroke="#000" stroke-width="2.4"/>
<line x1="578.4" y1="744.24" x2="585.6" y2="744.24" stroke="#000" stroke-width="2.4"/>
<line x1="578.4" y1="727.66" x2="585.6" y2="727.66" stroke="#000" stroke-width="2.4"/>
<line x1="578.4" y1="711.08" x2="585.6" y2="711.08" stroke="#000" stroke-width="2.4"/>
<line x1="575.1" y1="694.5" x2="585.6" y2="694.5" stroke="#000" stroke-width="3.4"/>
<text transform="translate(572.2,706.28) scale(0.96,1)" text-anchor="end" font-size="32.9" font-family="'Liberation Sans', Arial, sans-serif" font-weight="bold">4</text>
<line x1="578.4" y1="677.8" x2="585.6" y2="677.8" stroke="#000" stroke-width="2.4"/>
<line x1="578.4" y1="661.1" x2="585.6" y2="661.1" stroke="#000" stroke-width="2.4"/>
<line x1="578.4" y1="644.4" x2="585.6" y2="644.4" stroke="#000" stroke-width="2.4"/>
<line x1="578.4" y1="627.7" x2="585.6" y2="627.7" stroke="#000" stroke-width="2.4"/>
<line x1="575.1" y1="611" x2="585.6" y2="611" stroke="#000" stroke-width="3.4"/>
<text transform="translate(572.2,622.78) scale(0.96,1)" text-anchor="end" font-size="32.9" font-family="'Liberation Sans', Arial, sans-serif" font-weight="bold">6</text>
<line x1="578.4" y1="594.54" x2="585.6" y2="594.54" stroke="#000" stroke-width="2.4"/>
<line x1="578.4" y1="578.08" x2="585.6" y2="578.08" stroke="#000" stroke-width="2.4"/>
<line x1="578.4" y1="561.62" x2="585.6" y2="561.62" stroke="#000" stroke-width="2.4"/>
<line x1="578.4" y1="545.16" x2="585.6" y2="545.16" stroke="#000" stroke-width="2.4"/>
<line x1="575.1" y1="528.7" x2="585.6" y2="528.7" stroke="#000" stroke-width="3.4"/>
<text transform="translate(572.2,540.48) scale(0.96,1)" text-anchor="end" font-size="32.9" font-family="'Liberation Sans', Arial, sans-serif" font-weight="bold">8</text>
</g>
<g id="panel-G">
<text x="917" y="514.2" font-size="33" font-family="'Liberation Sans', Arial, sans-serif" font-weight="bold">G</text>
<text transform="translate(995.4,838) rotate(-90)" font-size="26.3" textLength="280.9" lengthAdjust="spacing" font-family="'Liberation Sans', Arial, sans-serif" font-weight="bold">Valerate, umol/ g feces</text>
<path d="M1083.45,607.6 V589.1" stroke="#000" stroke-width="4.2" fill="none"/>
<path d="M1070.95,589.1 H1095.95" stroke="#000" stroke-width="4.8" fill="none" stroke-linecap="round"/>
<path d="M1058,861.3 V607.6 H1108.9 V861.3" fill="#d3d3d3" stroke="#000" stroke-width="4.0" stroke-linejoin="miter"/>
<line x1="1056" y1="608.1" x2="1110.9" y2="608.1" stroke="#000" stroke-width="5.0"/>
<line x1="1083.45" y1="861.3" x2="1083.45" y2="865.7" stroke="#000" stroke-width="2.2"/>
<path d="M1165.3,630 V620.7" stroke="#000" stroke-width="4.2" fill="none"/>
<path d="M1152.8,620.7 H1177.8" stroke="#000" stroke-width="4.8" fill="none" stroke-linecap="round"/>
<path d="M1139.6,861.3 V630 H1191 V861.3" fill="#ede8cb" stroke="#000" stroke-width="4.0" stroke-linejoin="miter"/>
<line x1="1137.6" y1="630.5" x2="1193" y2="630.5" stroke="#000" stroke-width="5.0"/>
<line x1="1165.3" y1="861.3" x2="1165.3" y2="865.7" stroke="#000" stroke-width="2.2"/>
<path d="M1248,630 V620.7" stroke="#000" stroke-width="4.2" fill="none"/>
<path d="M1235.5,620.7 H1260.5" stroke="#000" stroke-width="4.8" fill="none" stroke-linecap="round"/>
<path d="M1222,861.3 V630 H1274 V861.3" fill="#fde0c5" stroke="#000" stroke-width="4.0" stroke-linejoin="miter"/>
<line x1="1220" y1="630.5" x2="1276" y2="630.5" stroke="#000" stroke-width="5.0"/>
<line x1="1248" y1="861.3" x2="1248" y2="865.7" stroke="#000" stroke-width="2.2"/>
<path d="M1330.5,648.6 V644.8" stroke="#000" stroke-width="4.2" fill="none"/>
<path d="M1318,644.8 H1343" stroke="#000" stroke-width="4.8" fill="none" stroke-linecap="round"/>
<path d="M1305,861.3 V648.6 H1356 V861.3" fill="#c2924e" stroke="#000" stroke-width="4.0" stroke-linejoin="miter"/>
<line x1="1303" y1="649.1" x2="1358" y2="649.1" stroke="#000" stroke-width="5.0"/>
<line x1="1330.5" y1="861.3" x2="1330.5" y2="865.7" stroke="#000" stroke-width="2.2"/>
<line x1="1042.5" y1="531.1" x2="1042.5" y2="863" stroke="#000" stroke-width="3.4"/>
<line x1="1032" y1="861.3" x2="1372.5" y2="861.3" stroke="#000" stroke-width="3.4"/>
<line x1="1032" y1="861.3" x2="1042.5" y2="861.3" stroke="#000" stroke-width="3.4"/>
<text transform="translate(1027.3,872.38) scale(0.99,1)" text-anchor="end" font-size="31.5" font-family="'Liberation Sans', Arial, sans-serif" font-weight="bold">0</text>
<line x1="1035.3" y1="844.92" x2="1042.5" y2="844.92" stroke="#000" stroke-width="2.4"/>
<line x1="1035.3" y1="828.54" x2="1042.5" y2="828.54" stroke="#000" stroke-width="2.4"/>
<line x1="1035.3" y1="812.16" x2="1042.5" y2="812.16" stroke="#000" stroke-width="2.4"/>
<line x1="1035.3" y1="795.78" x2="1042.5" y2="795.78" stroke="#000" stroke-width="2.4"/>
<line x1="1032" y1="779.4" x2="1042.5" y2="779.4" stroke="#000" stroke-width="3.4"/>
<text transform="translate(1027.3,790.48) scale(0.99,1)" text-anchor="end" font-size="31.5" font-family="'Liberation Sans', Arial, sans-serif" font-weight="bold">2</text>
<line x1="1035.3" y1="762.96" x2="1042.5" y2="762.96" stroke="#000" stroke-width="2.4"/>
<line x1="1035.3" y1="746.52" x2="1042.5" y2="746.52" stroke="#000" stroke-width="2.4"/>
<line x1="1035.3" y1="730.08" x2="1042.5" y2="730.08" stroke="#000" stroke-width="2.4"/>
<line x1="1035.3" y1="713.64" x2="1042.5" y2="713.64" stroke="#000" stroke-width="2.4"/>
<line x1="1032" y1="697.2" x2="1042.5" y2="697.2" stroke="#000" stroke-width="3.4"/>
<text transform="translate(1027.3,708.28) scale(0.99,1)" text-anchor="end" font-size="31.5" font-family="'Liberation Sans', Arial, sans-serif" font-weight="bold">4</text>
<line x1="1035.3" y1="680.86" x2="1042.5" y2="680.86" stroke="#000" stroke-width="2.4"/>
<line x1="1035.3" y1="664.52" x2="1042.5" y2="664.52" stroke="#000" stroke-width="2.4"/>
<line x1="1035.3" y1="648.18" x2="1042.5" y2="648.18" stroke="#000" stroke-width="2.4"/>
<line x1="1035.3" y1="631.84" x2="1042.5" y2="631.84" stroke="#000" stroke-width="2.4"/>
<line x1="1032" y1="615.5" x2="1042.5" y2="615.5" stroke="#000" stroke-width="3.4"/>
<text transform="translate(1027.3,626.58) scale(0.99,1)" text-anchor="end" font-size="31.5" font-family="'Liberation Sans', Arial, sans-serif" font-weight="bold">6</text>
<line x1="1035.3" y1="598.96" x2="1042.5" y2="598.96" stroke="#000" stroke-width="2.4"/>
<line x1="1035.3" y1="582.42" x2="1042.5" y2="582.42" stroke="#000" stroke-width="2.4"/>
<line x1="1035.3" y1="565.88" x2="1042.5" y2="565.88" stroke="#000" stroke-width="2.4"/>
<line x1="1035.3" y1="549.34" x2="1042.5" y2="549.34" stroke="#000" stroke-width="2.4"/>
<line x1="1032" y1="532.8" x2="1042.5" y2="532.8" stroke="#000" stroke-width="3.4"/>
<text transform="translate(1027.3,543.88) scale(0.99,1)" text-anchor="end" font-size="31.5" font-family="'Liberation Sans', Arial, sans-serif" font-weight="bold">8</text>
</g>
<g id="panel-H">
<text x="1380" y="514.2" font-size="33" font-family="'Liberation Sans', Arial, sans-serif" font-weight="bold">H</text>
<text transform="translate(1443.6,832) rotate(-90)" font-size="23" textLength="241" lengthAdjust="spacing" font-family="'Liberation Sans', Arial, sans-serif" font-weight="bold">BCFAs, umol/g feces</text>
<path d="M1542.5,612.7 V592.1" stroke="#000" stroke-width="4.2" fill="none"/>
<path d="M1530.7,592.1 H1554.3" stroke="#000" stroke-width="4.8" fill="none" stroke-linecap="round"/>
<path d="M1519,864.3 V612.7 H1566 V864.3" fill="#d3d3d3" stroke="#000" stroke-width="4.0" stroke-linejoin="miter"/>
<line x1="1517" y1="613.2" x2="1568" y2="613.2" stroke="#000" stroke-width="5.0"/>
<line x1="1542.5" y1="864.3" x2="1542.5" y2="868.7" stroke="#000" stroke-width="2.2"/>
<path d="M1619.3,626 V616.6" stroke="#000" stroke-width="4.2" fill="none"/>
<path d="M1607.5,616.6 H1631.1" stroke="#000" stroke-width="4.8" fill="none" stroke-linecap="round"/>
<path d="M1595.6,864.3 V626 H1643 V864.3" fill="#ede8cb" stroke="#000" stroke-width="4.0" stroke-linejoin="miter"/>
<line x1="1593.6" y1="626.5" x2="1645" y2="626.5" stroke="#000" stroke-width="5.0"/>
<line x1="1619.3" y1="864.3" x2="1619.3" y2="868.7" stroke="#000" stroke-width="2.2"/>
<path d="M1696.6,638 V627.6" stroke="#000" stroke-width="4.2" fill="none"/>
<path d="M1684.8,627.6 H1708.4" stroke="#000" stroke-width="4.8" fill="none" stroke-linecap="round"/>
<path d="M1673.1,864.3 V638 H1720.1 V864.3" fill="#fddfe0" stroke="#000" stroke-width="4.0" stroke-linejoin="miter"/>
<line x1="1671.1" y1="638.5" x2="1722.1" y2="638.5" stroke="#000" stroke-width="5.0"/>
<line x1="1696.6" y1="864.3" x2="1696.6" y2="868.7" stroke="#000" stroke-width="2.2"/>
<path d="M1773.3,653.4 V647.7" stroke="#000" stroke-width="4.2" fill="none"/>
<path d="M1761.5,647.7 H1785.1" stroke="#000" stroke-width="4.8" fill="none" stroke-linecap="round"/>
<path d="M1749.5,864.3 V653.4 H1797.1 V864.3" fill="#c2924e" stroke="#000" stroke-width="4.0" stroke-linejoin="miter"/>
<line x1="1747.5" y1="653.9" x2="1799.1" y2="653.9" stroke="#000" stroke-width="5.0"/>
<line x1="1773.3" y1="864.3" x2="1773.3" y2="868.7" stroke="#000" stroke-width="2.2"/>
<line x1="1504.5" y1="558.1" x2="1504.5" y2="866" stroke="#000" stroke-width="3.4"/>
<line x1="1495" y1="864.3" x2="1814" y2="864.3" stroke="#000" stroke-width="3.4"/>
<line x1="1494.9" y1="864.3" x2="1504.5" y2="864.3" stroke="#000" stroke-width="3.4"/>
<text transform="translate(1492.6,874.53) scale(0.95,1)" text-anchor="end" font-size="31.1" font-family="'Liberation Sans', Arial, sans-serif" font-weight="bold">0</text>
<line x1="1498.3" y1="849.08" x2="1504.5" y2="849.08" stroke="#000" stroke-width="2.4"/>
<line x1="1498.3" y1="833.86" x2="1504.5" y2="833.86" stroke="#000" stroke-width="2.4"/>
<line x1="1498.3" y1="818.64" x2="1504.5" y2="818.64" stroke="#000" stroke-width="2.4"/>
<line x1="1498.3" y1="803.42" x2="1504.5" y2="803.42" stroke="#000" stroke-width="2.4"/>
<line x1="1494.9" y1="788.2" x2="1504.5" y2="788.2" stroke="#000" stroke-width="3.4"/>
<text transform="translate(1492.6,798.43) scale(0.95,1)" text-anchor="end" font-size="31.1" font-family="'Liberation Sans', Arial, sans-serif" font-weight="bold">5</text>
<line x1="1498.3" y1="773.04" x2="1504.5" y2="773.04" stroke="#000" stroke-width="2.4"/>
<line x1="1498.3" y1="757.88" x2="1504.5" y2="757.88" stroke="#000" stroke-width="2.4"/>
<line x1="1498.3" y1="742.72" x2="1504.5" y2="742.72" stroke="#000" stroke-width="2.4"/>
<line x1="1498.3" y1="727.56" x2="1504.5" y2="727.56" stroke="#000" stroke-width="2.4"/>
<line x1="1494.9" y1="712.4" x2="1504.5" y2="712.4" stroke="#000" stroke-width="3.4"/>
<text transform="translate(1492.6,722.63) scale(0.95,1)" text-anchor="end" font-size="31.1" font-family="'Liberation Sans', Arial, sans-serif" font-weight="bold">10</text>
<line x1="1498.3" y1="697.1" x2="1504.5" y2="697.1" stroke="#000" stroke-width="2.4"/>
<line x1="1498.3" y1="681.8" x2="1504.5" y2="681.8" stroke="#000" stroke-width="2.4"/>
<line x1="1498.3" y1="666.5" x2="1504.5" y2="666.5" stroke="#000" stroke-width="2.4"/>
<line x1="1498.3" y1="651.2" x2="1504.5" y2="651.2" stroke="#000" stroke-width="2.4"/>
<line x1="1494.9" y1="635.9" x2="1504.5" y2="635.9" stroke="#000" stroke-width="3.4"/>
<text transform="translate(1491,646.13) scale(0.95,1)" text-anchor="end" font-size="31.1" font-family="'Liberation Sans', Arial, sans-serif" font-weight="bold">15</text>
<line x1="1498.3" y1="620.68" x2="1504.5" y2="620.68" stroke="#000" stroke-width="2.4"/>
<line x1="1498.3" y1="605.46" x2="1504.5" y2="605.46" stroke="#000" stroke-width="2.4"/>
<line x1="1498.3" y1="590.24" x2="1504.5" y2="590.24" stroke="#000" stroke-width="2.4"/>
<line x1="1498.3" y1="575.02" x2="1504.5" y2="575.02" stroke="#000" stroke-width="2.4"/>
<line x1="1494.9" y1="559.8" x2="1504.5" y2="559.8" stroke="#000" stroke-width="3.4"/>
<text transform="translate(1491,570.03) scale(0.95,1)" text-anchor="end" font-size="31.1" font-family="'Liberation Sans', Arial, sans-serif" font-weight="bold">20</text>
<rect x="1834.8" y="551.2" width="32" height="16" rx="1.2" fill="#d3d3d3" stroke="#000" stroke-width="4.4"/>
<text x="1885" y="567" font-size="24.5" font-family="'Liberation Sans', Arial, sans-serif" font-weight="bold">G30</text>
<rect x="1834.8" y="581.6" width="32" height="16.2" rx="1.2" fill="#ede8cb" stroke="#000" stroke-width="4.4"/>
<text x="1885" y="598" font-size="24.5" font-family="'Liberation Sans', Arial, sans-serif" font-weight="bold">G109</text>
<rect x="1836.2" y="613.2" width="31.6" height="17" rx="1.2" fill="#fddfe0" stroke="#000" stroke-width="4.4"/>
<text x="1886" y="629.6" font-size="24.5" font-family="'Liberation Sans', Arial, sans-serif" font-weight="bold">L3</text>
<rect x="1836.2" y="644.8" width="31.6" height="17" rx="1.2" fill="#c2924e" stroke="#000" stroke-width="4.4"/>
<text x="1886" y="662" font-size="24.5" font-family="'Liberation Sans', Arial, sans-serif" font-weight="bold">L14</text>
</g>
</svg>
</body>
</html>
